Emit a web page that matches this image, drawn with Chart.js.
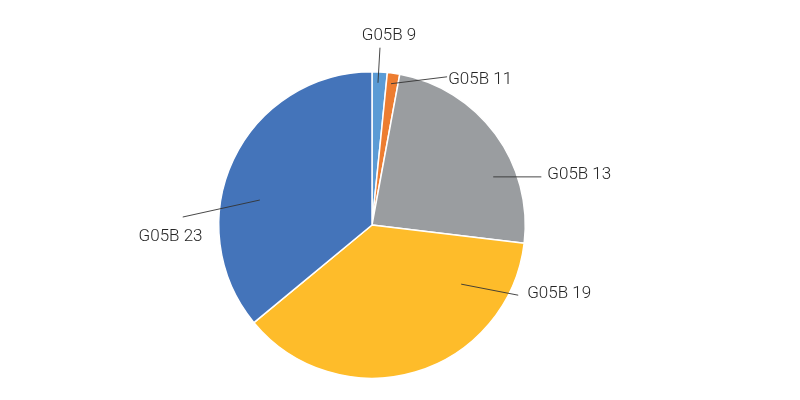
<!DOCTYPE html>
<html>
<head>
<meta charset="utf-8">
<script src="https://cdn.jsdelivr.net/npm/chart.js@4.4.0/dist/chart.umd.min.js"></script>
<style>
  html, body { margin: 0; padding: 0; background: #ffffff; }
  #wrap { width: 800px; height: 400px; }
</style>
</head>
<body>
<div id="wrap"><canvas id="c" width="800" height="400"></canvas></div>
<script>
const categories = ["G05B 9", "G05B 11", "G05B 13", "G05B 19", "G05B 23"];
const shares = [1.6, 1.3, 24.0, 37.1, 36.0];
const colors = ["#5B9BD5", "#ED7D31", "#9A9DA0", "#FEBC2A", "#4474BA"];

// label layout in units of the pie radius, relative to pie centre
const labelLayout = [
  { ax: 0.039, ay: -0.928, ex: 0.052, ey: -1.157, tx: 0.111, ty: -1.245, align: "center" },
  { ax: 0.124, ay: -0.922, ex: 0.490, ey: -0.967, tx: 0.497, ty: -0.962, align: "left" },
  { ax: 0.791, ay: -0.314, ex: 1.105, ey: -0.314, tx: 1.144, ty: -0.343, align: "left" },
  { ax: 0.582, ay:  0.386, ex: 0.954, ey:  0.458, tx: 1.013, ty:  0.433, align: "left" },
  { ax: -0.732, ay: -0.163, ex: -1.235, ey: -0.052, tx: -1.523, ty: 0.066, align: "left" }
];

const leaderLabels = {
  id: "leaderLabels",
  afterDatasetsDraw(chart) {
    const ctx = chart.ctx;
    const meta = chart.getDatasetMeta(0);
    ctx.save();
    meta.data.forEach((arc, i) => {
      const L = labelLayout[i];
      const R = arc.outerRadius;
      const cx = arc.x, cy = arc.y;
      ctx.strokeStyle = "#333333";
      ctx.lineWidth = 0.9;
      ctx.beginPath();
      ctx.moveTo(cx + L.ax * R, cy + L.ay * R);
      ctx.lineTo(cx + L.ex * R, cy + L.ey * R);
      ctx.stroke();
      ctx.fillStyle = "#262626";
      ctx.font = "300 17px Roboto, 'DejaVu Sans Condensed', sans-serif";
      ctx.textAlign = L.align;
      ctx.textBaseline = "alphabetic";
      ctx.fillText(chart.data.labels[i], cx + L.tx * R, cy + L.ty * R + 6.2);
    });
    ctx.restore();
  }
};

new Chart(document.getElementById("c"), {
  type: "pie",
  data: {
    labels: categories,
    datasets: [{
      data: shares,
      backgroundColor: colors,
      borderColor: "#ffffff",
      borderWidth: 1.5
    }]
  },
  options: {
    responsive: false,
    animation: false,
    layout: { padding: { top: 71, bottom: 21, left: 0, right: 56 } },
    plugins: {
      legend: { display: false },
      tooltip: { enabled: false }
    }
  },
  plugins: [leaderLabels]
});
</script>
</body>
</html>
